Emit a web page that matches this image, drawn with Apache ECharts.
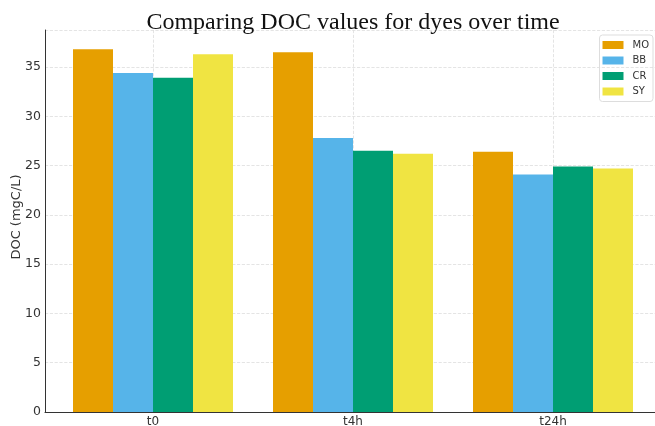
<!DOCTYPE html>
<html><head><meta charset="utf-8">
<script src="https://cdn.jsdelivr.net/npm/echarts@6/dist/echarts.min.js"></script>
<style>html,body{margin:0;padding:0;background:#fff}#c{width:655px;height:426px}</style>
</head><body><div id="c"></div>
<script>
const categories = ['t0', 't4h', 't24h'];
const seriesNames = ['MO', 'BB', 'CR', 'SY'];
const MO = [36.8, 36.5, 26.4];
const BB = [34.4, 27.8, 24.1];
const CR = [33.9, 26.5, 24.9];
const SY = [36.3, 26.2, 24.7];
const yTicks = [0, 5, 10, 15, 20, 25, 30, 35];
const colors = ['#E69F00', '#56B4E9', '#009E73', '#F0E442'];
const values = [MO, BB, CR, SY];

const chart = echarts.init(document.getElementById('c'));
chart.setOption({
  animation: false,
  title: {
    text: 'Comparing DOC values for dyes over time',
    left: 348, textAlign: 'center', top: 6,
    textStyle: {fontFamily: 'Liberation Serif', fontWeight: 'normal', fontSize: 24, color: '#111'}
  },
  legend: {
    orient: 'vertical', right: 2, top: 35,
    itemWidth: 21, itemHeight: 8, itemGap: 5.5,
    padding: [5, 4, 5, 3],
    borderColor: '#ddd', borderWidth: 1, borderRadius: 3,
    textStyle: {fontFamily: 'DejaVu Sans', fontSize: 10, color: '#333', padding: [0, 0, 0, 4]},
    icon: 'rect',
    data: seriesNames
  },
  grid: {left: 45, right: 0, top: 30, bottom: 14, containLabel: false, outerBoundsMode: 'none'},
  xAxis: {
    type: 'value', min: -0.54, max: 2.51,
    axisLine: {show: true, onZero: false, lineStyle: {color: '#333', width: 1}},
    axisTick: {show: false, customValues: [0, 1, 2]},
    axisLabel: {customValues: [0, 1, 2], formatter: v => categories[Math.round(v)],
      fontFamily: 'DejaVu Sans', fontSize: 12, color: '#333', margin: 4},
    splitLine: {show: true, customValues: [0, 1, 2], lineStyle: {color: '#ddd', type: 'dashed', width: 0.8}}
  },
  yAxis: {
    type: 'value', min: 0, max: 38.75, interval: 5,
    name: 'DOC (mgC/L)', nameLocation: 'middle', nameGap: 22, nameMoveOverlap: false,
    nameTextStyle: {fontFamily: 'DejaVu Sans', fontSize: 13, color: '#333', padding: [0, 0, 0, 8]},
    axisLine: {show: true, onZero: false, lineStyle: {color: '#333', width: 1}},
    axisTick: {show: false},
    axisLabel: {customValues: yTicks, fontFamily: 'DejaVu Sans', fontSize: 12.5, color: '#333', margin: 4},
    splitLine: {show: true, lineStyle: {color: '#ddd', type: 'dashed', width: 0.8}}
  },
  series: seriesNames.map((n, i) => ({
    name: n, type: 'bar', barWidth: 40, barGap: '0%',
    itemStyle: {color: colors[i]},
    data: values[i].map((v, j) => [j, v])
  }))
});
</script></body></html>
